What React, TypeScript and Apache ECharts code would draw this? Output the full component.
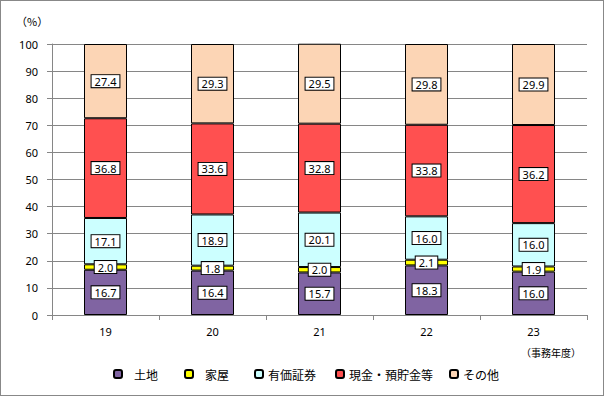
import React, { useEffect, useRef } from "react";
import * as echarts from "echarts";

const years = ["19", "20", "21", "22", "23"];
const land = [16.7, 16.4, 15.7, 18.3, 16.0];
const house = [2.0, 1.8, 2.0, 2.1, 1.9];
const securities = [17.1, 18.9, 20.1, 16.0, 16.0];
const cash = [36.8, 33.6, 32.8, 33.8, 36.2];
const other = [27.4, 29.3, 29.5, 29.8, 29.9];

const seriesNames = ["土地", "家屋", "有価証券", "現金・預貯金等", "その他"];
const seriesColors = ["#8064A2", "#FFFF00", "#CCFFFF", "#FF5050", "#FCD5B5"];
const seriesData = [land, house, securities, cash, other];
const legendLefts = [112, 183, 253, 334, 448];
const legendTextPad = [7, 7, 0, 0, 0];

export default function App() {
  const ref = useRef<HTMLDivElement>(null);
  useEffect(() => {
    document.body.style.margin = "0";
    if (!ref.current) return;
    const chart = echarts.init(ref.current, null, { renderer: "svg" });
    const font = "'Noto Sans', 'DejaVu Sans', sans-serif";
    const jp = "'Noto Sans CJK JP', sans-serif";
    chart.setOption({
      animation: false,
      backgroundColor: "#fff",
      grid: { left: 51, right: 16, top: 43, bottom: 80, containLabel: false },
      xAxis: {
        type: "category",
        data: years,
        axisLine: { lineStyle: { color: "#868686" } },
        axisTick: { show: true, length: 5, lineStyle: { color: "#868686" } },
        axisLabel: { color: "#000", fontSize: 11, fontFamily: font, margin: 11 },
      },
      yAxis: {
        type: "value",
        min: 0,
        max: 100,
        interval: 10,
        axisLine: { show: true, lineStyle: { color: "#868686" } },
        axisTick: { show: true, length: 5, lineStyle: { color: "#868686" } },
        axisLabel: { color: "#000", fontSize: 11, fontFamily: font, margin: 14 },
        splitLine: { lineStyle: { color: "#868686" } },
      },
      legend: seriesNames.map((n, i) => ({
        data: [n],
        left: legendLefts[i],
        top: 367,
        padding: 0,
        itemWidth: 8,
        itemHeight: 8,
        textStyle: {
          fontSize: 12,
          fontFamily: jp,
          color: "#000",
          padding: [0, 0, 0, legendTextPad[i]],
        },
      })),
      graphic: [
        {
          type: "text",
          left: 15,
          top: 14,
          style: { text: "（%）", fontSize: 11, fontFamily: jp, fill: "#000" },
        },
        {
          type: "text",
          left: 520,
          top: 346,
          style: { text: "（事務年度）", fontSize: 10, fontFamily: jp, fill: "#000" },
        },
      ],
      series: seriesNames.map((n, i) => ({
        name: n,
        type: "bar",
        stack: "total",
        barWidth: 43,
        data: seriesData[i],
        itemStyle: { color: seriesColors[i], borderColor: "#000", borderWidth: 1 },
        label: {
          show: true,
          position: "inside",
          formatter: (p: any) => Number(p.value).toFixed(1),
          backgroundColor: "#fff",
          borderColor: "#000",
          borderWidth: 1,
          padding: [1, 3, 0, 3],
          color: "#000",
          fontSize: 11,
          fontFamily: font,
        },
      })),
    });
    return () => chart.dispose();
  }, []);
  return (
    <div
      ref={ref}
      style={{
        width: 604,
        height: 396,
        boxSizing: "border-box",
        border: "1px solid #888",
      }}
    />
  );
}
